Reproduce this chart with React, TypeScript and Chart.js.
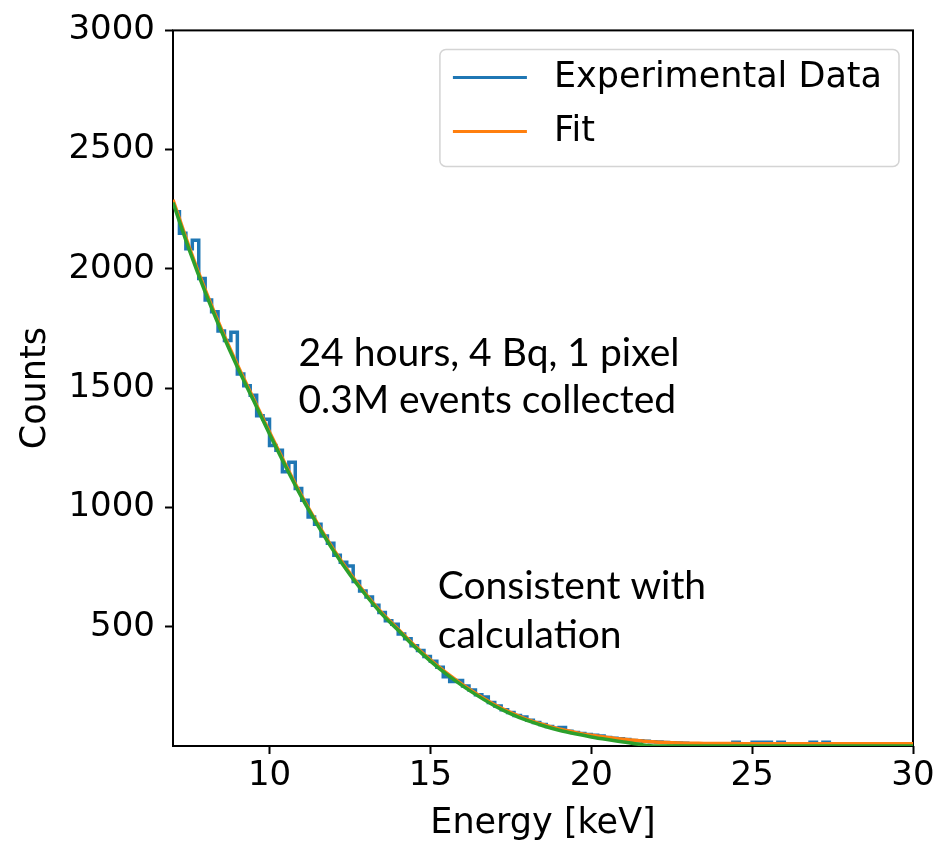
import React, { useEffect, useRef } from 'react';
import { Chart, registerables } from 'chart.js';

Chart.register(...registerables);

// ---- Data -------------------------------------------------------------
// Experimental histogram: 0.2 keV bins starting at 7.0 keV
const EXP_BIN_START = 7.0;
const EXP_BIN_WIDTH = 0.2;
const expCounts = [
  2240, 2150, 2085, 2120, 1960, 1870, 1820, 1740, 1700, 1735,
  1560, 1510, 1470, 1385, 1370, 1260, 1240, 1150, 1190, 1080,
  1030, 960, 930, 880, 850, 800, 770, 755, 690, 650,
  625, 590, 560, 525, 510, 470, 450, 420, 400, 375,
  355, 330, 290, 270, 275, 252, 235, 215, 205, 182,
  168, 152, 140, 128, 122, 108, 98, 90, 82, 74,
  78, 62, 57, 52, 48, 45, 42, 36, 33, 30,
  27, 23, 22, 20, 18, 17, 15, 14, 13, 12,
  0, 5, 0, 5, 0, 5, 0, 16, 5, 0,
  16, 16, 16, 0, 16, 0, 5, 0, 5, 16,
  0, 16, 0, 5, 0, 0, 5, 0, 0, 5,
  0, 0, 5, 0, 0,
];

// Fit and calculation curves, sampled every 0.5 keV from 7.0 keV
const CURVE_START = 7.0;
const CURVE_STEP = 0.5;
const fitCounts = [
  2290, 2093, 1913, 1749, 1598, 1457, 1316, 1179, 1049, 931,
  822, 724, 636, 557, 490, 422, 361, 306, 257, 213,
  173, 140, 112, 90, 71, 57, 45, 36, 28, 22,
  17, 14, 12, 11, 10, 10, 9, 9, 9, 9,
  9, 9, 9, 9, 9, 9, 9,
];
const calcCounts = [
  2278, 2082, 1903, 1740, 1589, 1449, 1308, 1172, 1042, 925,
  816, 718, 631, 552, 485, 417, 356, 301, 252, 208,
  168, 135, 107, 85, 66, 51, 38, 27, 17, 7,
  0, 0, 0, 0, 0, 0, 0, 0, 0, 0,
  0, 0, 0, 0, 0, 0, 0,
];

const xTicks = [10, 15, 20, 25, 30];
const yTicks = [500, 1000, 1500, 2000, 2500, 3000];
const X_MIN = 7;
const X_MAX = 30;
const Y_MIN = 0;
const Y_MAX = 3000;

const legendLabels = ['Experimental Data', 'Fit'];

const annotations = [
  { text: '24 hours, 4 Bq, 1 pixel', x: 10.9, y: 1595 },
  { text: '0.3M events collected', x: 10.9, y: 1395 },
  { text: 'Consistent with', x: 15.23, y: 615 },
  { text: 'calculation', x: 15.23, y: 410 },
];

// ---- Styles -----------------------------------------------------------
const AXIS_FONT = 'DejaVu Sans';
const NOTE_FONT = 'Lato';
const C_BLUE = '#1f77b4';
const C_ORANGE = '#ff7f0e';
const C_GREEN = '#2ca02c';

const framePlugin = {
  id: 'frame',
  beforeDatasetsDraw(chart: any) {
    const { ctx, chartArea } = chart;
    ctx.save();
    ctx.strokeStyle = '#000';
    ctx.lineWidth = 2;
    ctx.strokeRect(chartArea.left, chartArea.top, chartArea.right - chartArea.left, chartArea.bottom - chartArea.top);
    ctx.restore();
  },
};

const boxLegendPlugin = {
  id: 'boxLegend',
  afterDatasetsDraw(chart: any) {
    const { ctx, chartArea } = chart;
    ctx.save();
    ctx.font = `35px "${AXIS_FONT}"`;
    const items = legendLabels.map((lbl) => {
      const ds = chart.data.datasets.find((d: any) => d.label === lbl);
      return { text: lbl, color: ds ? ds.borderColor : '#000' };
    });
    const textW = Math.max(...items.map((it) => ctx.measureText(it.text).width));
    const padL = 13, lineLen = 74, gap = 27, padR = 17;
    const rowH = 54, padT = 28, boxH = 117;
    const right = chartArea.right - 14;
    const top = chartArea.top + 19;
    const boxW = padL + lineLen + gap + textW + padR;
    const left = right - boxW;
    ctx.beginPath();
    ctx.roundRect(left, top, boxW, boxH, 6);
    ctx.fillStyle = 'rgba(255,255,255,0.85)';
    ctx.fill();
    ctx.strokeStyle = '#d4d4d4';
    ctx.lineWidth = 1.5;
    ctx.stroke();
    items.forEach((it, i) => {
      const y = top + padT + i * rowH;
      ctx.beginPath();
      ctx.moveTo(left + padL, y);
      ctx.lineTo(left + padL + lineLen, y);
      ctx.strokeStyle = it.color;
      ctx.lineWidth = 3;
      ctx.stroke();
      ctx.fillStyle = '#000';
      ctx.textAlign = 'left';
      ctx.textBaseline = 'middle';
      ctx.fillText(it.text, left + padL + lineLen + gap, y + 1);
    });
    ctx.restore();
  },
};

const notesPlugin = {
  id: 'notes',
  afterDraw(chart: any) {
    const { ctx, scales } = chart;
    ctx.save();
    ctx.font = `39px "${NOTE_FONT}"`;
    ctx.fillStyle = '#000';
    ctx.textAlign = 'left';
    ctx.textBaseline = 'alphabetic';
    annotations.forEach((a) => {
      ctx.fillText(a.text, scales.x.getPixelForValue(a.x), scales.y.getPixelForValue(a.y));
    });
    ctx.restore();
  },
};

export default function App() {
  const ref = useRef<HTMLCanvasElement>(null);

  useEffect(() => {
    if (!ref.current) return;
    const expData = expCounts.map((y, i) => ({ x: EXP_BIN_START + EXP_BIN_WIDTH * (i + 0.5), y }));
    const fitData = fitCounts.map((y, i) => ({ x: CURVE_START + CURVE_STEP * i, y }));
    const calcData = calcCounts.map((y, i) => ({ x: CURVE_START + CURVE_STEP * i, y }));

    const chart = new Chart(ref.current, {
      type: 'line',
      data: {
        datasets: [
          {
            label: 'Experimental Data',
            data: expData,
            borderColor: C_BLUE,
            borderWidth: 3.5,
            pointRadius: 0,
            stepped: 'middle',
            order: 3,
          } as any,
          {
            label: 'Fit',
            data: fitData,
            borderColor: C_ORANGE,
            borderWidth: 3.5,
            pointRadius: 0,
            cubicInterpolationMode: 'monotone',
            order: 2,
          },
          {
            label: 'Calculation',
            data: calcData,
            borderColor: C_GREEN,
            borderWidth: 3.5,
            pointRadius: 0,
            cubicInterpolationMode: 'monotone',
            order: 1,
          },
        ],
      },
      options: {
        animation: false,
        responsive: true,
        maintainAspectRatio: false,
        layout: { padding: { left: 0, top: 23, right: 38, bottom: 0 } },
        plugins: { legend: { display: false }, tooltip: { enabled: false } },
        scales: {
          x: {
            type: 'linear',
            min: X_MIN,
            max: X_MAX,
            afterBuildTicks: (s: any) => {
              s.ticks = xTicks.map((v) => ({ value: v }));
            },
            afterFit: (s: any) => {
              s.height = 99;
            },
            grid: { drawOnChartArea: false, drawTicks: true, tickLength: 8, tickWidth: 2, tickColor: '#000' },
            border: { display: false },
            ticks: {
              color: '#000',
              font: { family: AXIS_FONT, size: 34 },
              padding: 2,
              maxRotation: 0,
              autoSkip: false,
              callback: (v: any) => String(v),
            },
            title: {
              display: true,
              text: 'Energy [keV]',
              color: '#000',
              font: { family: AXIS_FONT, size: 35 },
              padding: { top: 0, bottom: 0 },
            },
          },
          y: {
            type: 'linear',
            min: Y_MIN,
            max: Y_MAX,
            afterBuildTicks: (s: any) => {
              s.ticks = yTicks.map((v) => ({ value: v }));
            },
            afterFit: (s: any) => {
              s.width = 173;
            },
            grid: { drawOnChartArea: false, drawTicks: true, tickLength: 8, tickWidth: 2, tickColor: '#000' },
            border: { display: false },
            ticks: {
              color: '#000',
              font: { family: AXIS_FONT, size: 34 },
              padding: 10,
              autoSkip: false,
              callback: (v: any) => String(v),
            },
            title: {
              display: true,
              text: 'Counts',
              color: '#000',
              font: { family: AXIS_FONT, size: 35 },
              padding: { top: 15, bottom: 0 },
            },
          },
        },
      },
      plugins: [framePlugin, boxLegendPlugin, notesPlugin],
    });
    return () => chart.destroy();
  }, []);

  return (
    <div style={{ position: 'fixed', left: 0, top: 0, width: 951, height: 845, background: '#fff' }}>
      <canvas ref={ref} />
    </div>
  );
}
